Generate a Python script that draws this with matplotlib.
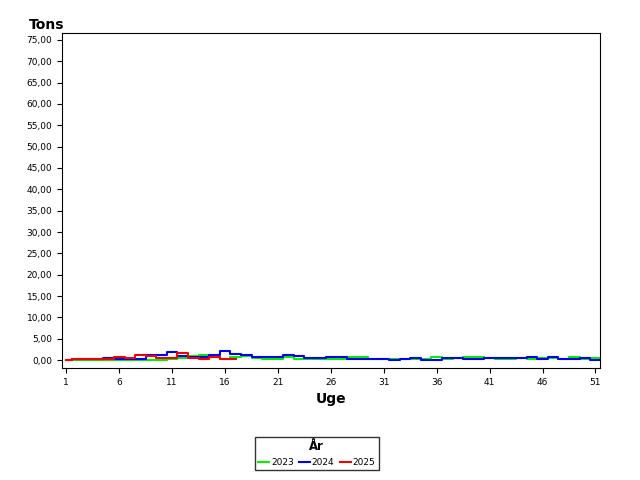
import matplotlib
matplotlib.use("Agg")
import matplotlib.pyplot as plt
import numpy as np

weeks23 = list(range(1, 53))
v2023 = [0.0,0.0,0.0,0.0,0.0,0.0,0.0,0.0,0.0,0.0,0.2,0.5,1.0,1.2,0.6,0.3,0.6,1.0,0.4,0.3,0.3,0.6,0.3,0.2,0.2,0.3,0.3,0.8,0.8,0.2,0.2,0.2,0.2,0.2,0.2,0.7,0.3,0.5,0.6,0.6,0.5,0.2,0.2,0.5,0.3,0.4,0.4,0.3,0.6,0.3,0.4,0.4]
weeks24 = list(range(1, 53))
v2024 = [0.0,0.3,0.3,0.3,0.5,0.3,0.3,0.3,1.2,1.3,2.0,1.0,0.8,0.7,1.1,2.2,1.5,1.2,0.7,0.7,0.8,1.2,0.9,0.5,0.4,0.8,0.6,0.3,0.3,0.2,0.2,0.1,0.2,0.5,0.1,0.1,0.4,0.4,0.3,0.2,0.5,0.5,0.4,0.5,0.7,0.2,0.6,0.2,0.2,0.4,0.0,0.0]
weeks25 = list(range(1, 18))
v2025 = [0.0,0.3,0.3,0.3,0.3,0.6,0.4,1.3,0.9,0.4,0.5,1.6,0.5,0.3,0.6,0.2,0.3]

fig = plt.figure(figsize=(6.4, 4.8), dpi=100)
ax = fig.add_axes([0.097, 0.233, 0.84, 0.698])
ax.plot(weeks23, v2023, color="#00ee00", lw=1.5, drawstyle="steps-mid", label="2023")
ax.plot(weeks24, v2024, color="#0000ee", lw=1.5, drawstyle="steps-mid", label="2024")
ax.plot(weeks25, v2025, color="#ee0000", lw=1.5, drawstyle="steps-mid", label="2025")
ax.set_xlim(0.6, 51.4)
ax.set_ylim(-1.9, 76.6)
ax.set_xticks(range(1, 52, 5))
ax.set_yticks(np.arange(0, 76, 5))
ax.set_yticklabels([f"{v:.2f}".replace(".", ",") for v in np.arange(0, 76, 5)])
ax.tick_params(labelsize=6.5)
ax.set_xlabel("Uge", fontsize=10, fontweight="bold")
fig.text(0.045, 0.94, "Tons", fontsize=10, fontweight="bold")
leg = fig.legend(loc="center", bbox_to_anchor=(0.495, 0.055), ncol=3, title="År",
                 fontsize=6.5, title_fontsize=8.5, frameon=True, fancybox=False,
                 edgecolor="black", handlelength=1.2, columnspacing=0.6, handletextpad=0.2)
leg.get_title().set_fontweight("bold")
fig.savefig("out.png", dpi=100)
